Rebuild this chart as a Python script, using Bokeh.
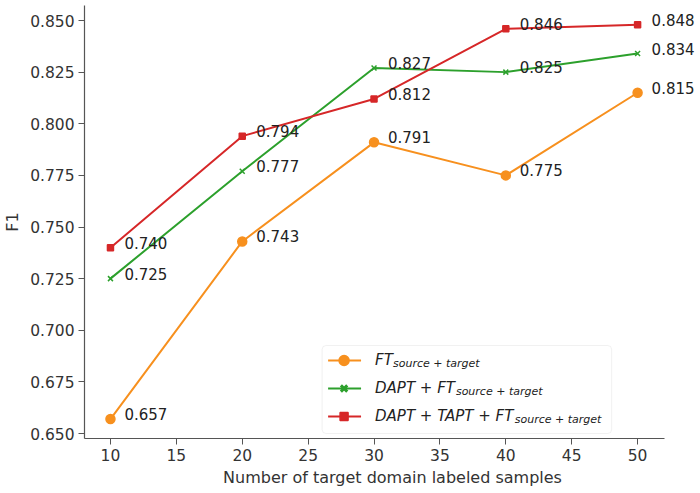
from bokeh.plotting import figure
from bokeh.models import (ColumnDataSource, Range1d, FixedTicker, Label, LabelSet,
                          BoxAnnotation, NumeralTickFormatter)
from bokeh.core.properties import value
from bokeh.embed import file_html
from bokeh.resources import INLINE

samples = [10, 20, 30, 40, 50]
ft = [0.657, 0.743, 0.791, 0.775, 0.815]
dapt_ft = [0.725, 0.777, 0.827, 0.825, 0.834]
dapt_tapt_ft = [0.740, 0.794, 0.812, 0.846, 0.848]
x_ticks = [10, 15, 20, 25, 30, 35, 40, 45, 50]
y_ticks = [0.650, 0.675, 0.700, 0.725, 0.750, 0.775, 0.800, 0.825, 0.850]

C_OR = "#f7901e"
C_GR = "#2ca02c"
C_RD = "#d62728"
FONT = "DejaVu Sans"

# pixel geometry of the reference frame
FL, FT_, FB = 83, 5, 438
SX, SY = 13.2, 2065.0
x0 = 10 - (109 - FL) / SX
x1 = x0 + (700 - FL) / SX
y0 = 0.650 - (FB - 433) / SY
y1 = 0.850 + (20 - FT_) / SY

p = figure(width=700, height=493, output_backend="svg", toolbar_location=None,
           x_range=Range1d(x0, x1), y_range=Range1d(y0, y1))
p.min_border_left = FL
p.min_border_right = 0
p.min_border_top = FT_
p.min_border_bottom = 493 - FB
p.outline_line_color = None
p.grid.visible = False
p.background_fill_color = "white"

for ax in (p.xaxis[0], p.yaxis[0]):
    ax.major_label_text_font = FONT
    ax.major_label_text_font_size = "15.5px"
    ax.major_label_text_color = "#333333"
    ax.axis_label_text_font = FONT
    ax.axis_label_text_font_size = "16px"
    ax.axis_label_text_font_style = "normal"
    ax.axis_label_text_color = "#333333"
    ax.axis_line_color = "#555555"
    ax.axis_line_width = 1.2
    ax.major_tick_line_color = "#555555"
    ax.major_tick_out = 6
    ax.major_tick_in = 0
    ax.minor_tick_line_color = None
    ax.major_label_standoff = 4

p.xaxis.axis_label_standoff = 4
p.yaxis.axis_label_standoff = 5
p.xaxis.bounds = (x0, 52.05)
p.xaxis.ticker = FixedTicker(ticks=x_ticks)
p.yaxis.ticker = FixedTicker(ticks=y_ticks)
p.yaxis.formatter = NumeralTickFormatter(format="0.000")
p.xaxis.axis_label = "Number of target domain labeled samples"
p.yaxis.axis_label = "F1"


def dx(px):
    return 10 + (px - 109) / SX


def dy(py):
    return 0.850 - (py - 20) / SY


series = [
    (ft, C_OR, "circle", 9),
    (dapt_ft, C_GR, "x", 7),
    (dapt_tapt_ft, C_RD, "square", 6),
]
for vals, col, mk, sz in series:
    src = ColumnDataSource(dict(x=samples, y=vals, t=[f"{v:.3f}" for v in vals]))
    p.line("x", "y", source=src, line_color=col, line_width=2)
    p.scatter("x", "y", source=src, marker=mk, size=sz, fill_color=col, line_color=col,
              line_width=1.5)
    p.add_layout(LabelSet(x="x", y="y", text="t", source=src, x_offset=14, y_offset=5,
                          text_baseline="middle", text_font=value(FONT),
                          text_font_size=value("15px"), text_color=value("#222222")))

# custom legend (with subscripts)
p.add_layout(BoxAnnotation(left=dx(321), right=dx(611), top=dy(345), bottom=dy(433),
                           fill_color="white", fill_alpha=0.9, line_color="#d0d0d0",
                           line_width=1, border_radius=4))
rows = [
    (C_OR, "circle", 10, 1.5, "FT", 392, 360),
    (C_GR, "x", 9, 3, "DAPT + FT", 455, 388),
    (C_RD, "square", 8, 1.5, "DAPT + TAPT + FT", 514, 416),
]
for col, mk, sz, lw, main, subx, py in rows:
    r1 = p.line([dx(327), dx(360)], [dy(py), dy(py)], line_color=col, line_width=2)
    r2 = p.scatter([dx(343)], [dy(py)], marker=mk, size=sz, fill_color=col, line_color=col,
                   line_width=lw)
    r1.level = "overlay"
    r2.level = "overlay"
    p.add_layout(Label(x=dx(374), y=dy(py - 1), text=main, text_font=FONT,
                       text_font_size="15px", text_font_style="italic",
                       text_baseline="middle", text_color="#222222"))
    p.add_layout(Label(x=dx(subx), y=dy(py + 3), text="source + target", text_font=FONT,
                       text_font_size="11px", text_font_style="italic",
                       text_baseline="middle", text_color="#222222"))

open("out.html", "w").write(file_html(p, INLINE))
